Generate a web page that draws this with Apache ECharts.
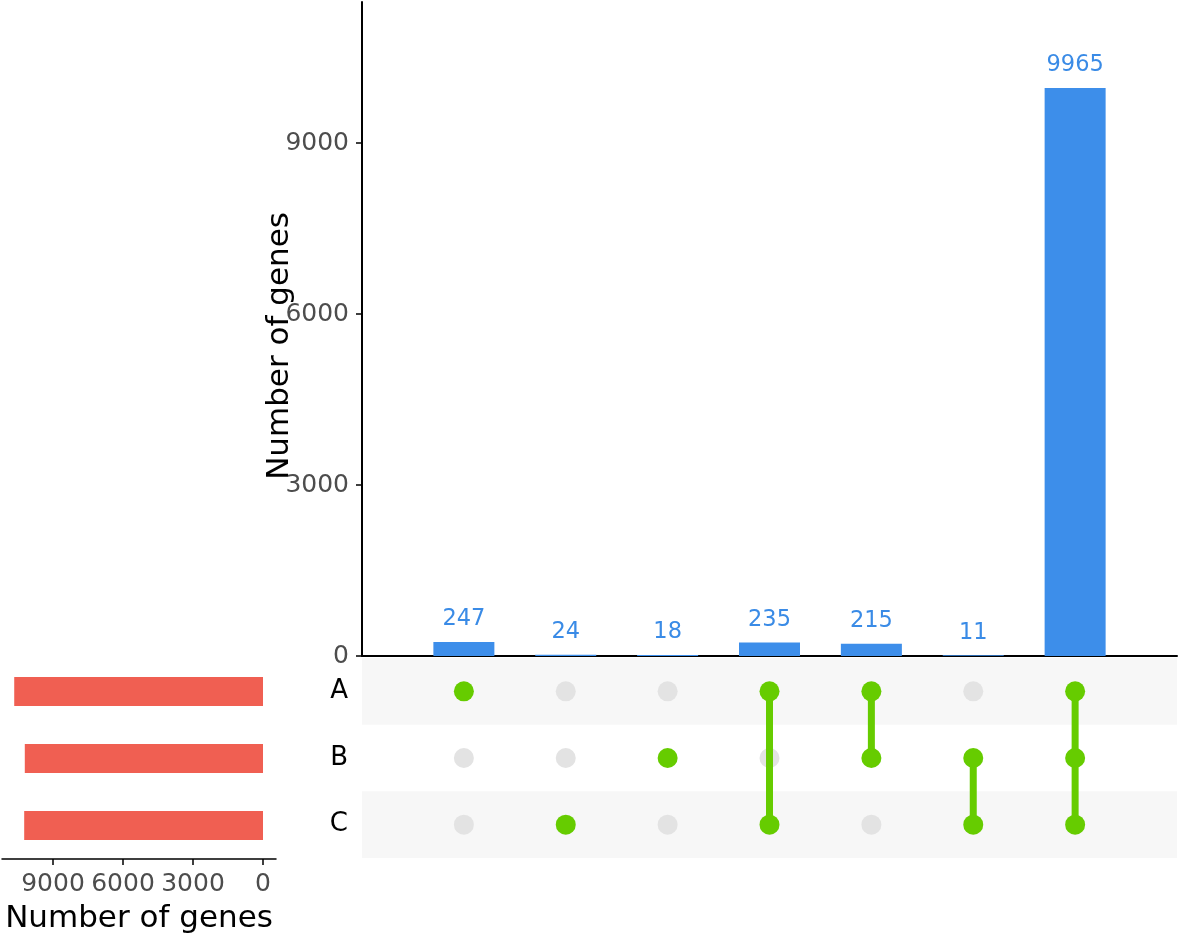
<!DOCTYPE html>
<html>
<head>
<meta charset="utf-8">
<script src="https://cdn.jsdelivr.net/npm/echarts@6/dist/echarts.min.js"></script>
<style>
    html, body { margin: 0; padding: 0; background: #fff; }
    #chart { width: 1179px; height: 936px; }
</style>
</head>
<body>
<div id="chart"></div>
<script>
    "use strict";

    // sets and intersection sizes (UpSet layout)
    const sets = ['A', 'B', 'C'];
    const setSizes = [10662, 10209, 10235];
    const intersectionCounts = [247, 24, 18, 235, 215, 11, 9965];
    const intersectionMembers = [['A'], ['C'], ['B'], ['A', 'C'], ['A', 'B'], ['B', 'C'], ['A', 'B', 'C']];
    const countTicks = [0, 3000, 6000, 9000];

    const FONT = 'DejaVu Sans';
    const BLUE = '#3d8eea';
    const GREEN = '#66cc00';
    const GREY_DOT = '#e3e3e3';

    // row position of each set in the matrix (A on top)
    const rowOf = { A: 2.5, B: 1.5, C: 0.5 };

    const greyDots = [];
    const greenDots = [];
    const lineSeries = [];
    intersectionMembers.forEach(function (members, i) {
        const x = i + 1;
        sets.forEach(function (s) {
            if (members.indexOf(s) >= 0) {
                greenDots.push([x, rowOf[s]]);
            } else {
                greyDots.push([x, rowOf[s]]);
            }
        });
        if (members.length > 1) {
            const rows = members.map(function (s) { return rowOf[s]; });
            lineSeries.push({
                type: 'line',
                xAxisIndex: 1,
                yAxisIndex: 1,
                data: [[x, Math.min.apply(null, rows)], [x, Math.max.apply(null, rows)]],
                symbol: 'none',
                lineStyle: { color: GREEN, width: 7 },
                silent: true,
                z: 3
            });
        }
    });

    const plain = function (v) { return String(v); };

    const chart = echarts.init(document.getElementById('chart'));

    const option = {
        animation: false,
        backgroundColor: '#fff',
        grid: [
            { left: 362, right: 2, top: 2, height: 654, outerBoundsMode: 'none' },
            { left: 362, right: 2, top: 658, height: 200, outerBoundsMode: 'none' },
            { left: 2, width: 274, top: 658, height: 201, outerBoundsMode: 'none' }
        ],
        xAxis: [
            {
                gridIndex: 0, type: 'value', min: 0, max: 8,
                axisLine: { show: true, lineStyle: { color: '#000', width: 2 } },
                axisTick: { show: false }, axisLabel: { show: false }, splitLine: { show: false }
            },
            {
                gridIndex: 1, type: 'value', min: 0, max: 8, show: false,
                splitLine: { show: false }
            },
            {
                gridIndex: 2, type: 'value', inverse: true, min: -557, max: 11186,
                position: 'bottom',
                axisLine: { show: true, lineStyle: { color: '#000', width: 1.5 } },
                axisTick: { show: true, length: 6, customValues: countTicks, lineStyle: { color: '#000', width: 1.5 } },
                axisLabel: {
                    customValues: countTicks, formatter: plain,
                    color: '#4d4d4d', fontSize: 25, fontFamily: FONT, margin: 13
                },
                splitLine: { show: false },
                name: 'Number of genes', nameLocation: 'middle', nameGap: 44,
                nameTextStyle: { color: '#000', fontSize: 31, fontFamily: FONT }
            }
        ],
        yAxis: [
            {
                gridIndex: 0, type: 'value', min: 0, max: 11474,
                axisLine: { show: true, lineStyle: { color: '#000', width: 2 } },
                axisTick: { show: true, length: 6, customValues: countTicks, lineStyle: { color: '#000', width: 1.5 } },
                axisLabel: {
                    customValues: countTicks, formatter: plain,
                    color: '#4d4d4d', fontSize: 25, fontFamily: FONT, margin: 13
                },
                splitLine: { show: false }
            },
            {
                gridIndex: 1, type: 'value', min: 0, max: 3,
                axisLine: { show: false }, axisTick: { show: false }, splitLine: { show: false },
                axisLabel: {
                    customValues: [0.5, 1.5, 2.5],
                    formatter: function (v) {
                        return v === 2.5 ? 'A' : (v === 1.5 ? 'B' : 'C');
                    },
                    color: '#000', fontSize: 26, fontFamily: FONT, margin: 14
                }
            },
            {
                gridIndex: 2, type: 'category', data: sets.slice().reverse(), show: false
            }
        ],
        graphic: [{
            type: 'text',
            x: 280,
            y: 346,
            rotation: Math.PI / 2,
            style: {
                text: 'Number of genes', fill: '#000', fontSize: 31, fontFamily: FONT,
                align: 'center', verticalAlign: 'middle'
            }
        }],
        series: [
            {
                type: 'bar',
                xAxisIndex: 0, yAxisIndex: 0,
                data: intersectionCounts.map(function (c, i) { return [i + 1, c]; }),
                barWidth: 61,
                itemStyle: { color: BLUE },
                label: {
                    show: true, position: 'top', distance: 11,
                    color: '#3a8be6', fontSize: 22.5, fontFamily: FONT,
                    formatter: function (p) { return p.value[1]; }
                }
            },
            {
                type: 'scatter',
                xAxisIndex: 1, yAxisIndex: 1,
                data: greyDots,
                symbolSize: 20,
                itemStyle: { color: GREY_DOT, opacity: 1 },
                silent: true,
                z: 2,
                markArea: {
                    silent: true,
                    itemStyle: { color: '#f7f7f7', opacity: 1 },
                    data: [
                        [{ yAxis: 2 }, { yAxis: 3 }],
                        [{ yAxis: 0 }, { yAxis: 1 }]
                    ]
                }
            }
        ].concat(lineSeries).concat([
            {
                type: 'scatter',
                xAxisIndex: 1, yAxisIndex: 1,
                data: greenDots,
                symbolSize: 20,
                itemStyle: { color: GREEN, opacity: 1 },
                silent: true,
                z: 4
            },
            {
                type: 'bar',
                xAxisIndex: 2, yAxisIndex: 2,
                data: setSizes.slice().reverse(),
                barWidth: 29,
                itemStyle: { color: '#f05f52' }
            }
        ])
    };

    chart.setOption(option);
</script>
</body>
</html>
